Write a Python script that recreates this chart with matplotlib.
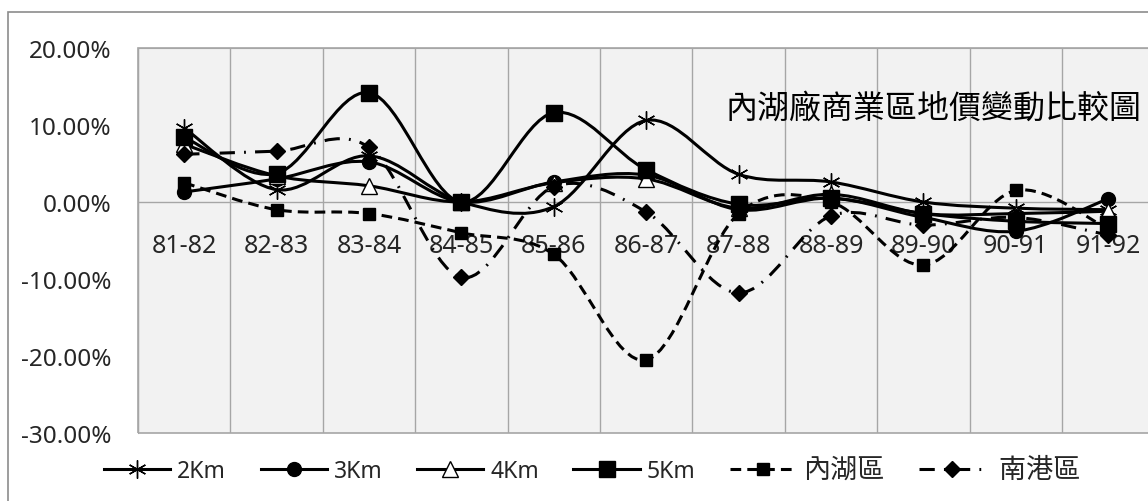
import numpy as np
import matplotlib
matplotlib.use('Agg')
import matplotlib.pyplot as plt
from matplotlib.path import Path
from matplotlib.patches import PathPatch, Rectangle
from matplotlib.lines import Line2D
from matplotlib.ticker import FuncFormatter, FixedLocator

plt.rcParams['font.family'] = ['Noto Sans', 'Noto Sans CJK TC', 'DejaVu Sans']

# 年期
periods = ['81-82', '82-83', '83-84', '84-85', '85-86', '86-87',
           '87-88', '88-89', '89-90', '90-91', '91-92']

# 地價變動率 (%)
km2 = [9.6, 1.6, 6.0, 0.0, -0.6, 10.6, 3.6, 2.6, 0.0, -0.8, -1.0]
km3 = [1.3, 3.0, 5.2, 0.0, 2.6, 3.5, -1.0, 0.5, -2.0, -3.8, 0.4]
km4 = [7.5, 3.4, 2.1, 0.0, 2.5, 3.0, -0.8, 1.0, -1.5, -1.5, -1.2]
km5 = [8.4, 3.7, 14.2, 0.0, 11.6, 4.2, -0.3, 0.5, -1.5, -2.5, -2.8]
neihu = [2.5, -1.0, -1.5, -4.0, -6.8, -20.5, -1.5, 0.0, -8.2, 1.5, -3.5]
nangang = [6.2, 6.6, 7.1, -9.8, 2.0, -1.3, -11.8, -1.8, -3.0, -2.0, -4.3]

series = [
    ('2Km', km2, dict(marker=(6, 2, 0), ms=13, mfc='none', mew=1.0), '-'),
    ('3Km', km3, dict(marker='o', ms=10), '-'),
    ('4Km', km4, dict(marker='^', ms=11, mfc='white', mew=1.0), '-'),
    ('5Km', km5, dict(marker='s', ms=11), '-'),
    ('內湖區', neihu, dict(marker='s', ms=8), (0, (3.5, 2.0))),
    ('南港區', nangang, dict(marker='D', ms=8), (0, (5.0, 3.0, 0.6, 3.0))),
]


def smooth_path(x, y):
    # Excel 樣式的平滑曲線 (Bezier 控制點)
    pts = np.column_stack([x, y]).astype(float)
    n = len(pts)
    verts = [pts[0]]
    codes = [Path.MOVETO]
    for i in range(n - 1):
        p0 = pts[i - 1] if i > 0 else pts[i]
        p1 = pts[i]
        p2 = pts[i + 1]
        p3 = pts[i + 2] if i + 2 < n else pts[i + 1]
        c1 = p1 + (p2 - p0) / 6.0
        c2 = p2 - (p3 - p1) / 6.0
        verts += [c1, c2, p2]
        codes += [Path.CURVE4] * 3
    return Path(verts, codes)


W, H = 1148, 502
fig = plt.figure(figsize=(W / 100, H / 100), dpi=100)
fig.patch.set_facecolor('white')

# 外框
fig.patches.append(Rectangle((8 / W, -0.1), 1.2, (H - 13) / H + 0.1,
                             transform=fig.transFigure, fill=False,
                             edgecolor='#8c8c8c', lw=1.2))

left, top, bottom = 138, 49, 434
step = 92.4
ax = fig.add_axes([left / W, (H - bottom) / H, 11 * step / W, (bottom - top) / H])
ax.set_facecolor('#f2f2f2')

xs = np.arange(len(periods))
for name, vals, mk, ls in series:
    p = PathPatch(smooth_path(xs, vals), fill=False, edgecolor='black',
                  lw=2.2, linestyle=ls, capstyle='butt', zorder=3)
    ax.add_patch(p)
    ax.plot(xs, vals, linestyle='none', color='black', zorder=4, **mk)

ax.set_xlim(-0.5, len(periods) - 0.5)
ax.set_ylim(-30, 20)
ax.set_yticks(np.arange(-30, 21, 10))
ax.yaxis.set_major_formatter(FuncFormatter(lambda v, p: '%.2f%%' % v))
ax.tick_params(axis='y', length=0, labelsize=17.5, pad=19)

ax.set_xticks(xs)
ax.set_xticklabels(periods)
ax.xaxis.set_minor_locator(FixedLocator(np.arange(-0.5, len(periods), 1)))
ax.spines['bottom'].set_position(('data', 0))
ax.spines['bottom'].set_visible(False)
ax.tick_params(axis='x', which='both', length=0, labelsize=18, pad=22)
ax.tick_params(axis='both', labelcolor='#262626')

ax.axhline(0, color='#a6a6a6', lw=1.0, zorder=1)
ax.grid(True, axis='x', which='minor', color='#a6a6a6', lw=1.0)
ax.set_axisbelow(True)
for s in ['left', 'top', 'right']:
    ax.spines[s].set_color('#a6a6a6')
ax.add_patch(Rectangle((-0.5, -30), 20, 50, fill=False, edgecolor='#a6a6a6',
                       lw=1.2, clip_on=False, zorder=1))

ax.text(0.578, 0.846, '內湖廠商業區地價變動比較圖', transform=ax.transAxes,
        fontsize=23, family=['Noto Sans CJK TC'], ha='left', va='center', color='black')

handles = []
for name, vals, mk, ls in series:
    handles.append(Line2D([], [], color='black', lw=2.2, linestyle=ls, **mk))
labels = [s[0] for s in series]
labels[-1] = ' ' + labels[-1]
leg = fig.legend(handles, labels, loc='center', ncol=6,
                 bbox_to_anchor=(0.516, 0.062), frameon=False, fontsize=16.5,
                 handlelength=2.9, handletextpad=0.3, columnspacing=1.5,
                 labelcolor='#262626')
for t in leg.get_texts()[4:]:
    t.set_fontsize(19.5)

fig.savefig('out.png', dpi=100, facecolor='white')
